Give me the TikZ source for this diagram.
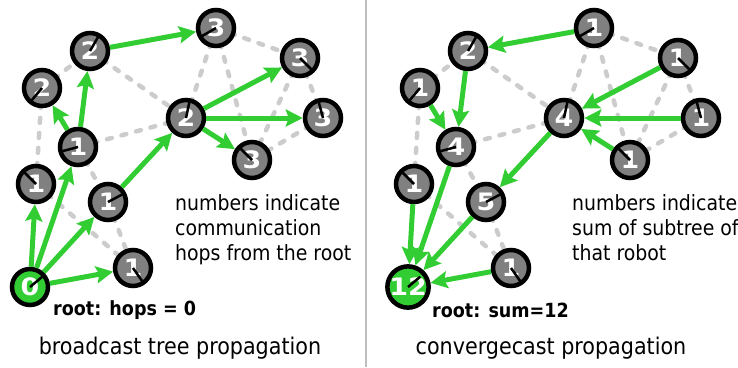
\documentclass[tikz,border=0pt]{standalone}
\usepackage{fontspec}
\setmainfont{DejaVu Sans Condensed}
\newfontfamily\digitfont{DejaVu Sans}[FakeStretch=1.12]
\usepackage{xcolor}
\usepackage{tikz}
\usetikzlibrary{arrows.meta}
\usetikzlibrary{backgrounds}

\definecolor{treegreen}{RGB}{50,205,50}
\definecolor{robotgray}{RGB}{128,128,128}
\definecolor{linkgray}{RGB}{204,204,204}
\definecolor{rulegray}{RGB}{190,190,190}

\begin{document}
\begin{tikzpicture}[
	x=1pt, y=-1pt,
	font=\fontsize{21}{25}\selectfont
]
\tikzset{
    robot/.style = {circle, draw=black, line width=4.5pt, fill=robotgray, minimum size=36pt, inner sep=0pt,
                    text=white, font=\digitfont\bfseries\fontsize{24}{24}\selectfont},
    rootbot/.style = {robot, fill=treegreen},
    heading/.style = {black, line width=2.5pt},
    link/.style = {linkgray, line width=4.5pt, line cap=round, dash pattern=on 5pt off 10pt},
    tree/.style = {treegreen, line width=5pt, -{Stealth[length=17pt,width=17pt,inset=3pt]}},
    note/.style = {align=left, anchor=north west, inner sep=0pt},
    rootnote/.style = {anchor=west, inner sep=0pt, font=\bfseries\fontsize{19.5}{22}\selectfont},
    caption/.style = {inner sep=0pt, font=\fontsize{23}{26}\selectfont}
}
\useasboundingbox (0,0) rectangle (738,367);

% left: hop counts
\node[rootbot] (Lr) at (30,287) {0};
\draw[heading] (Lr.center) -- ++(-40:16);
\foreach \n/\x/\y/\h/\t in {a/36/184/-135/1, b/78/147/165/1, c/108/202/-28/1, d/133/268/55/1,
                            e/42/88/130/2, f/90/51/-60/2, g/186/118/-78/2,
                            h/216/28/150/3, i/300/58/45/3, j/323/118/-105/3, k/252/160/-135/3}
{
  \node[robot] (L\n) at (\x,\y) {\t};
  \draw[heading] (L\n.center) -- ++(\h:16);
}

% right: subtree sums
\begin{scope}[xshift=378pt]
\node[rootbot] (Rr) at (30,287) {12};
\draw[heading] (Rr.center) -- ++(-40:16);
\foreach \n/\x/\y/\h/\t in {a/36/184/-135/1, b/78/147/165/4, c/108/202/-28/5, d/133/268/55/1,
                            e/42/88/130/1, f/90/51/-60/2, g/186/118/-78/4,
                            h/216/28/150/1, i/300/58/45/1, j/323/118/-105/1, k/252/160/-135/1}
{
  \node[robot] (R\n) at (\x,\y) {\t};
  \draw[heading] (R\n.center) -- ++(\h:16);
}
\end{scope}

\begin{scope}[on background layer]
\foreach \p in {L,R}
  \foreach \u/\v in {e/f, f/g, h/i, h/g, h/k, i/j, i/k, j/k, b/g, e/a, a/d, b/c, c/d}
    \draw[link] (\p\u.center) -- (\p\v.center);
\end{scope}

\foreach \u/\v in {r/a, r/b, r/c, r/d, b/e, b/f, c/g, f/h, g/i, g/j, g/k}
{
  \draw[tree] (L\u) -- (L\v);
  \draw[tree] (R\v) -- (R\u);
}

\node[note] (Lnote) at (175,194) {numbers indicate\\communication\\hops from the root};
\node[note] (Rnote) at (572,194) {numbers indicate\\sum of subtree of\\that robot};
\node[rootnote] (Lroot) at (53,310) {root: hops = 0};
\node[rootnote] (Rroot) at (432,310) {root: sum=12};
\node[caption] (Lcap) at (180,348) {broadcast tree propagation};
\node[caption] (Rcap) at (551,348) {convergecast propagation};

\draw[rulegray, line width=2pt] (366,0) -- (366,367);
\end{tikzpicture}
\end{document}
